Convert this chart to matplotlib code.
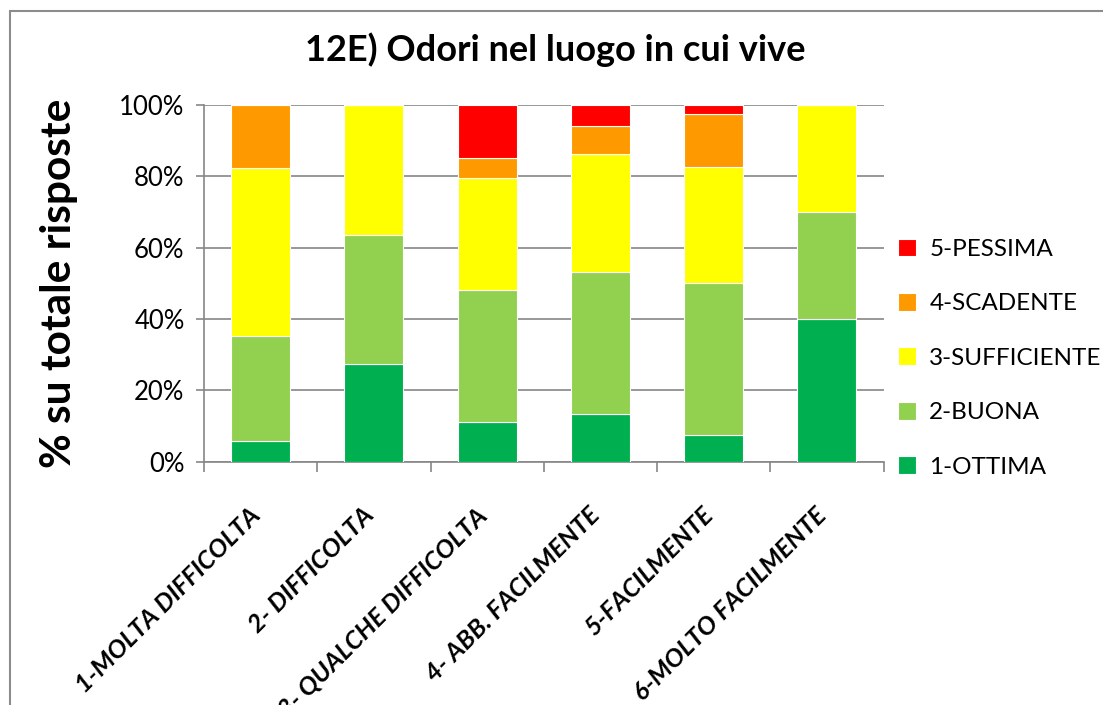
import numpy as np
import matplotlib
matplotlib.use("Agg")
import matplotlib.pyplot as plt
from matplotlib.patches import Rectangle
from matplotlib.ticker import PercentFormatter, FixedLocator
from matplotlib.transforms import ScaledTranslation

plt.rcParams['font.family'] = ['Lato', 'DejaVu Sans']

# Categories and stacked shares (percent of responses)
categories = ['1-MOLTA DIFFICOLTA', '2- DIFFICOLTA', '3- QUALCHE DIFFICOLTA',
              '4- ABB. FACILMENTE', '5-FACILMENTE', '6-MOLTO FACILMENTE']
series_names = ['1-OTTIMA', '2-BUONA', '3-SUFFICIENTE', '4-SCADENTE', '5-PESSIMA']
ottima = [5.9, 27.3, 11.1, 13.4, 7.5, 40.0]
buona = [29.4, 36.4, 37.0, 39.8, 42.5, 30.0]
sufficiente = [47.1, 36.3, 31.5, 33.1, 32.5, 30.0]
scadente = [17.6, 0.0, 5.6, 7.8, 15.0, 0.0]
pessima = [0.0, 0.0, 14.8, 5.9, 2.5, 0.0]
colors = ['#00b050', '#92d050', '#ffff00', '#ff9900', '#ff0000']

series = [ottima, buona, sufficiente, scadente, pessima]

fig = plt.figure(figsize=(11.03, 7.05), dpi=100)
ax = fig.add_axes([0.185, 0.345, 0.616, 0.506])

x = np.arange(len(categories))
bottom = np.zeros(len(categories))
handles = []
for name, vals, col in zip(series_names, series, colors):
    vals = np.array(vals)
    b = ax.bar(x, vals, bottom=bottom, width=0.52, color=col,
               edgecolor='white', linewidth=0.8, label=name, zorder=3)
    handles.append(b)
    bottom += vals

ax.set_xlim(-0.5, len(categories) - 0.5)
ax.set_ylim(0, 100)
ax.yaxis.set_major_formatter(PercentFormatter(decimals=0))
ax.set_yticks([0, 20, 40, 60, 80, 100])
ax.yaxis.grid(True, color='#868686', linewidth=1.2, zorder=0)
ax.set_axisbelow(True)

ax.set_xticks(x)
ax.set_xticklabels(categories, rotation=45, ha='right', rotation_mode='anchor',
                   fontsize=18.3, fontweight='bold', fontstyle='italic')
ax.tick_params(axis='x', length=0, pad=30)
shift = ScaledTranslation(-12 / 100, 0, fig.dpi_scale_trans)
for lab in ax.get_xticklabels():
    lab.set_transform(lab.get_transform() + shift)
ax.xaxis.set_minor_locator(FixedLocator(np.arange(-0.5, len(categories), 1)))
ax.tick_params(axis='x', which='minor', length=7, color='#868686', width=1.2)
ax.tick_params(axis='y', labelsize=18.5, length=6, color='#868686', width=1.2, pad=8)

for s in ['top', 'right']:
    ax.spines[s].set_visible(False)
for s in ['left', 'bottom']:
    ax.spines[s].set_color('#868686')
    ax.spines[s].set_linewidth(1.2)

ax.set_ylabel('% su totale risposte', fontsize=30.5, fontweight='bold', labelpad=30)
fig.text(0.503, 0.929, '12E) Odori nel luogo in cui vive', ha='center', va='center',
         fontsize=26, fontweight='bold')

leg = fig.legend(handles[::-1], series_names[::-1], loc='center left',
                 bbox_to_anchor=(0.805, 0.492), frameon=False, fontsize=17.5,
                 handlelength=0.75, handleheight=0.75, labelspacing=1.36,
                 handletextpad=0.55, borderaxespad=0)

# chart area border
fig.patches.append(Rectangle((0.009, -0.1), 1.2, 1.085, transform=fig.transFigure,
                             fill=False, edgecolor='#8c8c8c', linewidth=1.5))

fig.savefig('out.png', dpi=100)
